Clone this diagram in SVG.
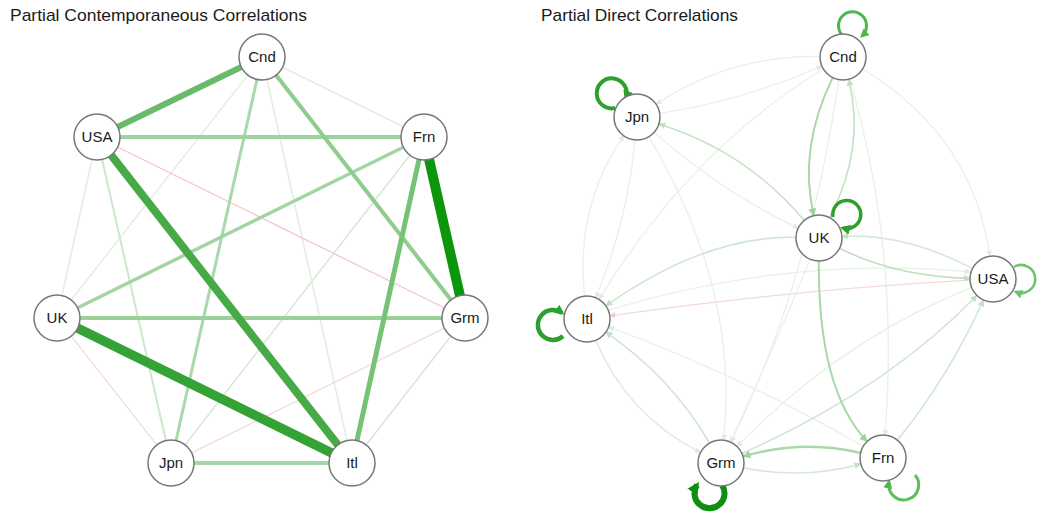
<svg xmlns="http://www.w3.org/2000/svg" width="1044" height="514" viewBox="0 0 1044 514">
<style>
.title{font-family:"Liberation Sans",Arial,Helvetica,sans-serif;font-size:17px;fill:#1a1a1a}
.lbl{font-family:"Liberation Sans",Arial,Helvetica,sans-serif;font-size:15px;fill:#1a1a1a;text-anchor:middle}
.node{fill:#fff;stroke:#777;stroke-width:1.5}
.e{fill:none;stroke-linecap:butt}
.lf{stroke:#e3eee3;stroke-width:1.5}
.lf2{stroke:#d6e9d6;stroke-width:1.5}
.lp{stroke:#f1d3d9;stroke-width:1.2}
.rf{stroke:#e9f2e9;stroke-width:1.4}
.rl{stroke:#cfe7cf;stroke-width:1.6}
.rm{stroke:#a9d8a9;stroke-width:2}
.rp{stroke:#f3d9de;stroke-width:1.3}
.loop{fill:none}
</style>
<defs>
<marker id="af" viewBox="0 0 10 10" refX="9" refY="5" markerWidth="6" markerHeight="6" markerUnits="userSpaceOnUse" orient="auto"><path d="M0,0 L10,5 L0,10 z" fill="#dfebdf"/></marker>
<marker id="al" viewBox="0 0 10 10" refX="9" refY="5" markerWidth="7" markerHeight="7" markerUnits="userSpaceOnUse" orient="auto"><path d="M0,0 L10,5 L0,10 z" fill="#c2e1c2"/></marker>
<marker id="am" viewBox="0 0 10 10" refX="9" refY="5" markerWidth="8" markerHeight="8" markerUnits="userSpaceOnUse" orient="auto"><path d="M0,0 L10,5 L0,10 z" fill="#9ed39e"/></marker>
<marker id="ap" viewBox="0 0 10 10" refX="9" refY="5" markerWidth="6" markerHeight="6" markerUnits="userSpaceOnUse" orient="auto"><path d="M0,0 L10,5 L0,10 z" fill="#efc9d0"/></marker>
<marker id="ad1" viewBox="0 0 10 10" refX="7" refY="5" markerWidth="10" markerHeight="10" markerUnits="userSpaceOnUse" orient="auto"><path d="M0,0 L10,5 L0,10 z" fill="#2ea02e"/></marker>
<marker id="ad2" viewBox="0 0 10 10" refX="7" refY="5" markerWidth="9" markerHeight="9" markerUnits="userSpaceOnUse" orient="auto"><path d="M0,0 L10,5 L0,10 z" fill="#4cb84c"/></marker>
<marker id="ad3" viewBox="0 0 10 10" refX="7" refY="5" markerWidth="12" markerHeight="12" markerUnits="userSpaceOnUse" orient="auto"><path d="M0,0 L10,5 L0,10 z" fill="#0f8f0f"/></marker>
<marker id="ad4" viewBox="0 0 10 10" refX="7" refY="5" markerWidth="9" markerHeight="9" markerUnits="userSpaceOnUse" orient="auto"><path d="M0,0 L10,5 L0,10 z" fill="#6cc46c"/></marker>
</defs>
<rect width="1044" height="514" fill="#fff"/>
<text class="title" x="10" y="21" textLength="297" lengthAdjust="spacingAndGlyphs">Partial Contemporaneous Correlations</text>
<text class="title" x="541" y="21" textLength="197" lengthAdjust="spacingAndGlyphs">Partial Direct Correlations</text>

<g id="connectors-left">
<line class="e lf" x1="262" y1="57" x2="424" y2="137"/>
<line class="e lf" x1="262" y1="57" x2="57" y2="318"/>
<line class="e lf" x1="262" y1="57" x2="352" y2="463"/>
<line class="e lf" x1="97" y1="137" x2="57" y2="318"/>
<line class="e lf2" x1="424" y1="137" x2="171" y2="463"/>
<line class="e lf2" x1="465" y1="318" x2="352" y2="463"/>
<line class="e lp" x1="97" y1="137" x2="465" y2="318" style="stroke:#eec5cd"/>
<line class="e lp" x1="57" y1="318" x2="171" y2="463"/>
<line class="e lp" x1="465" y1="318" x2="171" y2="463"/>
<line class="e" x1="97" y1="137" x2="171" y2="463" stroke="#cde7cd" stroke-width="2"/>
<line class="e" x1="262" y1="57" x2="171" y2="463" stroke="#a9d8a9" stroke-width="3"/>
<line class="e" x1="171" y1="463" x2="352" y2="463" stroke="#a6d6a6" stroke-width="4"/>
<line class="e" x1="424" y1="137" x2="57" y2="318" stroke="#a3d5a3" stroke-width="3.5"/>
<line class="e" x1="57" y1="318" x2="465" y2="318" stroke="#99d199" stroke-width="4"/>
<line class="e" x1="97" y1="137" x2="424" y2="137" stroke="#9dd39d" stroke-width="4"/>
<line class="e" x1="262" y1="57" x2="465" y2="318" stroke="#8fcd8f" stroke-width="4"/>
<line class="e" x1="424" y1="137" x2="352" y2="463" stroke="#76c276" stroke-width="5"/>
<line class="e" x1="97" y1="137" x2="262" y2="57" stroke="#69bb69" stroke-width="6"/>
<line class="e" x1="97" y1="137" x2="352" y2="463" stroke="#47aa47" stroke-width="8"/>
<line class="e" x1="57" y1="318" x2="352" y2="463" stroke="#34a234" stroke-width="9.5"/>
<line class="e" x1="424" y1="137" x2="465" y2="318" stroke="#0c960c" stroke-width="10"/>
</g>

<g id="L-Cnd"><circle class="node" cx="262" cy="57" r="23"/><text class="lbl" x="262" y="62">Cnd</text></g>
<g id="L-USA"><circle class="node" cx="97" cy="137" r="23"/><text class="lbl" x="97" y="142">USA</text></g>
<g id="L-Frn"><circle class="node" cx="424" cy="137" r="23"/><text class="lbl" x="424" y="142">Frn</text></g>
<g id="L-UK"><circle class="node" cx="57" cy="318" r="23"/><text class="lbl" x="57" y="323">UK</text></g>
<g id="L-Grm"><circle class="node" cx="465" cy="318" r="23"/><text class="lbl" x="465" y="323">Grm</text></g>
<g id="L-Jpn"><circle class="node" cx="171" cy="463" r="23"/><text class="lbl" x="171" y="468">Jpn</text></g>
<g id="L-Itl"><circle class="node" cx="352" cy="463" r="23"/><text class="lbl" x="352" y="468">Itl</text></g>

<g id="connectors-right">
<path class="e rf" d="M820,56.6 Q730,55 656.1,104.2" marker-end="url(#af)"/>
<path class="e rf" d="M659.7,113.4 Q745,100 821.9,66.2" marker-end="url(#af)"/>
<path class="e rf" d="M823.3,69 Q690,150 599,299.4" marker-end="url(#af)"/>
<path class="e rf" d="M862.7,69 Q973,136 989.8,256.2" marker-end="url(#af)"/>
<path class="e rf" d="M584.6,296.1 Q575,205 623.8,135.8" marker-end="url(#af)"/>
<path class="e rf" d="M635,139.9 Q628,220 595.8,297.8" marker-end="url(#af)"/>
<path class="e rf" d="M648.8,136.8 Q740,290 723.5,440.1" marker-end="url(#af)"/>
<path class="e rf" d="M838.8,79.6 Q810,280 731,442.3" marker-end="url(#af)"/>
<path class="e rf" d="M849.5,79.1 Q900,250 884.9,435.1" marker-end="url(#af)"/>
<path class="e rf" d="M863.1,446.4 Q740,375 608.6,326.9" marker-end="url(#af)"/>
<path class="e rf" d="M609,310 Q790,255 970.5,272" marker-end="url(#af)"/>
<path class="e rf" d="M971.6,287.5 Q840,340 737,446.5" marker-end="url(#af)"/>
<path class="e rf" d="M810.3,259.3 Q775,345 730.6,442.1" marker-end="url(#af)"/>
<path class="e rp" d="M970,280.2 Q790,290 609.8,315.8" marker-end="url(#ap)"/>
<path class="e rf" d="M654.2,132.2 Q722,192 798.2,228.2" marker-end="url(#af)"/>
<path class="e rf" d="M595.8,340.2 Q627,415 700.5,452.5" marker-end="url(#af)" style="stroke:#dcebdc"/>
<path class="e rl" d="M709.5,443 Q672,378 605.9,332.1" marker-end="url(#al)"/>
<path class="e rl" d="M796,237.4 Q706.5,235 605.8,305.8" marker-end="url(#al)"/>
<path class="e rl" d="M804.2,220.4 Q746,151 659,123.9" marker-end="url(#al)" style="stroke:#c6e3c6"/>
<path class="e rl" d="M742,453.6 Q885,390 977,295.5" marker-end="url(#al)"/>
<path class="e rl" d="M897.5,440.1 Q948,378 983.5,300" marker-end="url(#al)"/>
<path class="e rl" d="M972.6,268.4 Q903,232.5 842,236.5" marker-end="url(#al)" style="stroke:#d6ead6"/>
<path class="e rl" d="M839.5,248.3 Q895.5,276.5 970,278.4" marker-end="url(#al)" style="stroke:#bfe0bf"/>
<path class="e rl" d="M743.5,467.7 Q802,480 860.8,464" marker-end="url(#al)" style="stroke:#d3e9d3"/>
<path class="e rl" d="M829.6,217.6 Q866,148 848.6,79.3" marker-end="url(#al)" style="stroke:#c3e3c3"/>
<path class="e rm" d="M832.8,77.6 Q798,148 813.8,215.6" marker-end="url(#am)"/>
<path class="e rm" d="M818.8,261 Q818,390 867.1,441.4" marker-end="url(#am)"/>
<path class="e rm" d="M860.6,452.8 Q802,439 743.1,456.5" marker-end="url(#am)" style="stroke-width:2.4"/>
<path class="loop" d="M842,35 A14 14 0 1 1 862,36" stroke="#4cb84c" stroke-width="3" marker-end="url(#ad2)"/>
<path class="loop" d="M615,108 A15 15 0 1 1 626,98" stroke="#2ea02e" stroke-width="4" marker-end="url(#ad1)"/>
<path class="loop" d="M833,217 A14 14 0 1 1 843,228" stroke="#2ea02e" stroke-width="3.5" marker-end="url(#ad1)"/>
<path class="loop" d="M1014,267 A14 14 0 1 1 1016,292" stroke="#6cc46c" stroke-width="2.5" marker-end="url(#ad4)"/>
<path class="loop" d="M563,336 A15 15 0 1 1 562,313" stroke="#2ea02e" stroke-width="4.5" marker-end="url(#ad1)"/>
<path class="loop" d="M722,485 A15 15 0 1 1 697,485" stroke="#0f8f0f" stroke-width="6" marker-end="url(#ad3)"/>
<path class="loop" d="M915,475 A15 15 0 1 1 889,482" stroke="#5cbf5c" stroke-width="3" marker-end="url(#ad2)"/>
</g>

<g id="R-Cnd"><circle class="node" cx="843" cy="57" r="23"/><text class="lbl" x="843" y="62">Cnd</text></g>
<g id="R-Jpn"><circle class="node" cx="637" cy="117" r="23"/><text class="lbl" x="637" y="122">Jpn</text></g>
<g id="R-UK"><circle class="node" cx="819" cy="238" r="23"/><text class="lbl" x="819" y="243">UK</text></g>
<g id="R-USA"><circle class="node" cx="993" cy="279" r="23"/><text class="lbl" x="993" y="284">USA</text></g>
<g id="R-Itl"><circle class="node" cx="587" cy="319" r="23"/><text class="lbl" x="587" y="324">Itl</text></g>
<g id="R-Grm"><circle class="node" cx="721" cy="463" r="23"/><text class="lbl" x="721" y="468">Grm</text></g>
<g id="R-Frn"><circle class="node" cx="883" cy="458" r="23"/><text class="lbl" x="883" y="463">Frn</text></g>
</svg>
